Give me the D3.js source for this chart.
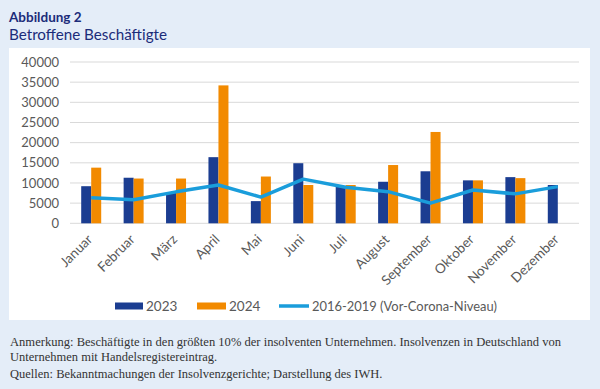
<!DOCTYPE html>
<html><head><meta charset="utf-8">
<script src="https://cdn.jsdelivr.net/npm/d3@7"></script>
<style>
html,body{margin:0;padding:0;background:#e4edf8;}
svg{display:block;}
</style></head>
<body>
<svg id="c" width="600" height="389"></svg>
<script>
const months = ["Januar","Februar","März","April","Mai","Juni","Juli","August","September","Oktober","November","Dezember"];
const v2023 = [9200,11300,7500,16400,5500,14900,9250,10300,12900,10650,11450,9500];
const v2024 = [13800,11100,11100,34200,11600,9500,9500,14450,22650,10650,11200,null];
const vBase = [6350,5850,7800,9500,6500,10950,8950,7850,5000,8250,7300,9100];
const yTicks = [0,5000,10000,15000,20000,25000,30000,35000,40000];
const seriesNames = ["2023","2024","2016-2019 (Vor-Corona-Niveau)"];

const C23 = "#1b3d91", C24 = "#f28a00", CL = "#1a9ddb";
const svg = d3.select("#c");
const font = "Lato, 'Open Sans', sans-serif";

svg.append("rect").attr("x",0).attr("y",0).attr("width",600).attr("height",389).attr("fill","#e4edf8");
svg.append("rect").attr("x",9).attr("y",48).attr("width",581).attr("height",272).attr("fill","#ffffff");

svg.append("text").attr("x",9).attr("y",22).attr("font-family",font).attr("font-weight","bold")
  .attr("font-size",13.5).attr("fill","#1b2c7a").text("Abbildung 2");
svg.append("text").attr("x",9).attr("y",40).attr("font-family",font)
  .attr("font-size",16).attr("fill","#1b2c7a").attr("textLength",158).attr("lengthAdjust","spacingAndGlyphs").text("Betroffene Beschäftigte");

const x = d3.scaleBand().domain(months).range([70,579]);
const y = d3.scaleLinear().domain([0,40000]).range([223.3,62]);

const g = svg.append("g");
g.selectAll("line.grid").data(yTicks).join("line")
  .attr("x1",70).attr("x2",579).attr("y1",d=>y(d)).attr("y2",d=>y(d))
  .attr("stroke","#d9d9d9").attr("stroke-width",1);

const yAxis = d3.axisLeft(y).tickValues(yTicks).tickFormat(d=>String(d)).tickSize(0).tickPadding(0);
const ya = svg.append("g").attr("transform","translate(59,0)").call(yAxis);
ya.select(".domain").remove();
ya.selectAll("text").attr("font-family",font).attr("font-size",13).attr("fill","#595959");

const bw = 10;
g.selectAll("rect.b23").data(months).join("rect")
  .attr("x",d=>x(d)+x.bandwidth()/2-bw).attr("width",bw)
  .attr("y",(d,i)=>y(v2023[i])).attr("height",(d,i)=>y(0)-y(v2023[i]))
  .attr("fill",C23);
g.selectAll("rect.b24").data(months.filter((d,i)=>v2024[i]!=null)).join("rect")
  .attr("x",d=>x(d)+x.bandwidth()/2).attr("width",bw)
  .attr("y",d=>y(v2024[months.indexOf(d)])).attr("height",d=>y(0)-y(v2024[months.indexOf(d)]))
  .attr("fill",C24);

const line = d3.line().x((d,i)=>x(months[i])+x.bandwidth()/2).y(d=>y(d));
g.append("path").datum(vBase).attr("d",line).attr("fill","none")
  .attr("stroke",CL).attr("stroke-width",3.5).attr("stroke-linejoin","round");

const xAxis = d3.axisBottom(x).tickSize(0).tickPadding(0);
const xa = svg.append("g").attr("transform","translate(0,223.3)").call(xAxis);
xa.select(".domain").remove();
xa.selectAll("text").attr("font-family",font).attr("font-size",13.5).attr("fill","#595959")
  .attr("text-anchor","end").attr("dy",0).attr("y",0)
  .attr("transform","translate(2,17) rotate(-45)");

const ly = 306;
const leg = svg.append("g").attr("font-family",font).attr("font-size",13.5).attr("fill","#595959");
leg.append("rect").attr("x",115).attr("y",ly-3.5).attr("width",28).attr("height",7).attr("fill",C23);
leg.append("text").attr("x",146).attr("y",ly+5).text(seriesNames[0]);
leg.append("rect").attr("x",197).attr("y",ly-3.5).attr("width",29).attr("height",7).attr("fill",C24);
leg.append("text").attr("x",229).attr("y",ly+5).text(seriesNames[1]);
leg.append("line").attr("x1",279).attr("x2",309).attr("y1",ly).attr("y2",ly).attr("stroke",CL).attr("stroke-width",3.5);
leg.append("text").attr("x",312).attr("y",ly+5).attr("textLength",185).attr("lengthAdjust","spacingAndGlyphs").text(seriesNames[2]);

const fn = svg.append("g").attr("font-family","'Liberation Serif', serif").attr("font-size",12.5).attr("fill","#333333");
fn.append("text").attr("x",10).attr("y",346).attr("textLength",551).attr("lengthAdjust","spacingAndGlyphs")
  .text("Anmerkung: Beschäftigte in den größten 10% der insolventen Unternehmen. Insolvenzen in Deutschland von");
fn.append("text").attr("x",10).attr("y",361).text("Unternehmen mit Handelsregistereintrag.");
fn.append("text").attr("x",10).attr("y",378).text("Quellen: Bekanntmachungen der Insolvenzgerichte; Darstellung des IWH.");
</script>
</body></html>
